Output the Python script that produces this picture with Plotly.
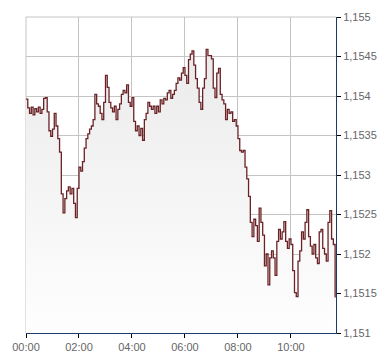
import plotly.graph_objects as go
import pandas as pd

# Price series (EUR/USD style quote), one reading every 4 minutes from 00:00
start_time = "2024-01-01 00:00"
step_minutes = 4
prices = [
    1.15396, 1.15385, 1.15378, 1.15386, 1.15376, 1.15384, 1.15380, 1.15386, 1.15378, 1.15383,
    1.15397, 1.15398, 1.15380, 1.15356, 1.15349, 1.15358, 1.15378, 1.15362, 1.15346, 1.15329,
    1.15276, 1.15252, 1.15270, 1.15280, 1.15285, 1.15276, 1.15283, 1.15264, 1.15246, 1.15283,
    1.15310, 1.15305, 1.15317, 1.15334, 1.15346, 1.15352, 1.15358, 1.15362, 1.15370, 1.15402,
    1.15390, 1.15387, 1.15378, 1.15370, 1.15392, 1.15426, 1.15411, 1.15392, 1.15385, 1.15380,
    1.15387, 1.15370, 1.15383, 1.15390, 1.15402, 1.15407, 1.15404, 1.15414, 1.15392, 1.15387,
    1.15398, 1.15368, 1.15356, 1.15362, 1.15350, 1.15359, 1.15344, 1.15370, 1.15378, 1.15392,
    1.15387, 1.15383, 1.15387, 1.15378, 1.15387, 1.15380, 1.15395, 1.15390, 1.15397, 1.15395,
    1.15404, 1.15407, 1.15397, 1.15402, 1.15407, 1.15416, 1.15423, 1.15420, 1.15429, 1.15436,
    1.15426, 1.15416, 1.15446, 1.15453, 1.15457, 1.15439, 1.15422, 1.15410, 1.15392, 1.15383,
    1.15410, 1.15422, 1.15459, 1.15451, 1.15451, 1.15447, 1.15410, 1.15398, 1.15429, 1.15435,
    1.15402, 1.15395, 1.15390, 1.15370, 1.15383, 1.15378, 1.15380, 1.15368, 1.15370, 1.15362,
    1.15346, 1.15331, 1.15329, 1.15331, 1.15310, 1.15295, 1.15273, 1.15240, 1.15222, 1.15244,
    1.15236, 1.15216, 1.15258, 1.15240, 1.15224, 1.15185, 1.15200, 1.15161, 1.15195, 1.15204,
    1.15195, 1.15173, 1.15216, 1.15231, 1.15219, 1.15228, 1.15241, 1.15216, 1.15207, 1.15219,
    1.15212, 1.15179, 1.15151, 1.15146, 1.15191, 1.15204, 1.15228, 1.15219, 1.15240, 1.15256,
    1.15222, 1.15210, 1.15200, 1.15212, 1.15195, 1.15188, 1.15228, 1.15231, 1.15207, 1.15200,
    1.15191, 1.15240, 1.15255, 1.15219, 1.15212, 1.15145,
]
times = pd.date_range(start_time, periods=len(prices), freq=f"{step_minutes}min")

y_ticks = [1.151, 1.1515, 1.152, 1.1525, 1.153, 1.1535, 1.154, 1.1545, 1.155]
x_range = ["2024-01-01 00:00", "2024-01-01 11:42"]

GRID = "#c4c4c4"
AXIS = "#1c3a66"

fig = go.Figure()
fig.add_trace(go.Scatter(
    x=times, y=prices, mode="lines",
    line=dict(color="#6b2226", width=1.3, shape="hv"),
    fill="tozeroy",
    fillgradient=dict(type="vertical", start=1.151, stop=1.1546,
                      colorscale=[[0, "#ffffff"], [1, "#ebebeb"]]),
    hoverinfo="skip",
))

# gray frame on the left and top edges (grid lines at the plot borders)
fig.add_shape(type="line", xref="paper", yref="paper", x0=0, x1=0, y0=0, y1=1,
              line=dict(color=GRID, width=1), layer="below")
fig.add_shape(type="line", xref="paper", yref="paper", x0=0, x1=1, y0=1, y1=1,
              line=dict(color=GRID, width=1), layer="below")

fig.update_layout(
    width=390, height=364,
    margin=dict(l=26, r=54, t=11, b=24),
    paper_bgcolor="white", plot_bgcolor="white",
    separators=", ",
    showlegend=False,
    font=dict(family="Liberation Sans, Arial, sans-serif", size=11, color="#666666"),
)
fig.update_xaxes(
    range=x_range, type="date", tickformat="%H:%M", dtick=2 * 3600 * 1000,
    showgrid=True, gridcolor=GRID, gridwidth=1,
    showline=True, linecolor=AXIS, linewidth=1,
    ticks="outside", ticklen=4, tickcolor="#000000", tickwidth=1,
    zeroline=False, fixedrange=True,
)
fig.update_yaxes(
    range=[1.151, 1.155], side="right", tickvals=y_ticks,
    showgrid=True, gridcolor=GRID, gridwidth=1,
    showline=True, linecolor=AXIS, linewidth=1,
    ticks="outside", ticklen=4, tickcolor="#000000", tickwidth=1,
    zeroline=False, fixedrange=True,
)
fig.write_html("out.html")
